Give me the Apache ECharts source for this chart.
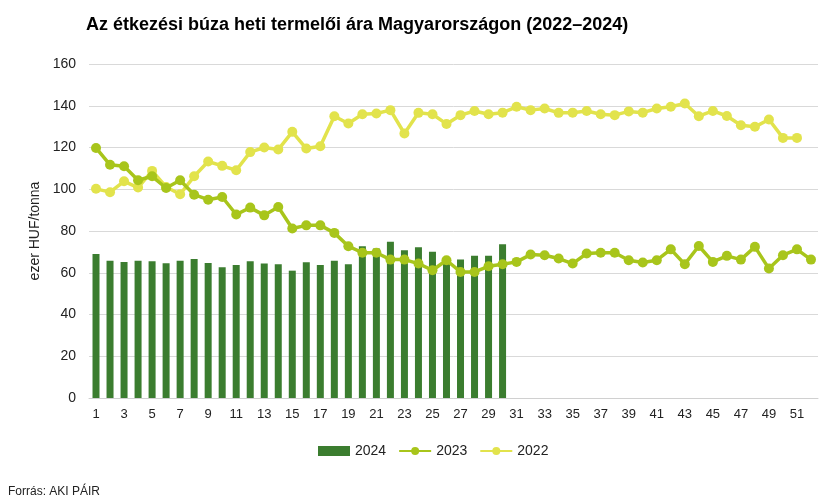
<!DOCTYPE html>
<html>
<head>
<meta charset="utf-8">
<script src="https://cdn.jsdelivr.net/npm/echarts@6/dist/echarts.min.js"></script>
<style>html,body{margin:0;padding:0;background:#fff}#c{width:838px;height:504px}</style>
</head>
<body>
<div id="c"></div>
<script>
var weeks = [];
for (var i = 1; i <= 52; i++) weeks.push(String(i));

var y2024 = [69, 65.8, 65.2, 65.7, 65.5, 64.5, 65.8, 66.6, 64.7, 62.6, 63.7, 65.5, 64.4, 64.1, 61.0, 65.0, 63.7, 65.7, 64.1, 72.7, 71.6, 74.9, 70.8, 72.2, 70.1, 64.5, 66.4, 68.2, 68.2, 73.6];

var y2023 = [119.8, 111.7, 111.0, 104.3, 106.2, 100.6, 104.3, 97.4, 95.0, 96.3, 87.9, 91.2, 87.5, 91.5, 81.2, 82.7, 82.7, 79.1, 72.7, 69.6, 69.6, 66.3, 66.3, 64.4, 61.2, 66.0, 60.4, 60.4, 63.1, 64.1, 65.2, 68.7, 68.4, 66.8, 64.4, 69.2, 69.6, 69.6, 66.0, 64.9, 66.0, 71.2, 64.1, 72.8, 65.2, 68.1, 66.3, 72.4, 62.0, 68.4, 71.2, 66.3];

var y2022 = [100.2, 98.6, 103.8, 100.8, 108.8, 101.1, 97.6, 106.2, 113.3, 111.2, 109.1, 117.8, 120.0, 119.0, 127.5, 119.5, 120.6, 135.0, 131.5, 135.9, 136.3, 137.9, 126.7, 136.6, 135.9, 131.3, 135.5, 137.5, 135.9, 136.7, 139.5, 137.9, 138.7, 136.6, 136.7, 137.5, 135.9, 135.5, 137.3, 136.7, 138.7, 139.5, 141.1, 135.0, 137.5, 135.1, 130.7, 129.9, 133.4, 124.6, 124.6];

var yTicks = [0, 20, 40, 60, 80, 100, 120, 140, 160];

var chart = echarts.init(document.getElementById('c'), null, {renderer: 'canvas'});
var FONT = 'Liberation Sans, Arial, sans-serif';
chart.setOption({
  animation: false,
  backgroundColor: '#ffffff',
  textStyle: {fontFamily: FONT},
  title: {
    text: 'Az étkezési búza heti termelői ára Magyarországon (2022–2024)',
    left: 81, top: 11,
    textStyle: {fontFamily: FONT, fontSize: 18, fontWeight: 'bold', color: '#000'}
  },
  legend: {
    left: 313, top: 439,
    itemGap: 12,
    itemWidth: 32, itemHeight: 10,
    textStyle: {fontFamily: FONT, fontSize: 14, color: '#222'},
    data: [
      {name: '2024', icon: 'rect', itemStyle: {color: '#3b7d2f'}},
      {name: '2023'},
      {name: '2022'}
    ]
  },
  graphic: [{
    type: 'text', left: 8, top: 486,
    style: {text: 'Forrás: AKI PÁIR', font: '12px ' + FONT, fill: '#222'}
  }],
  grid: {left: 89, right: 20, top: 64, bottom: 106, containLabel: false},
  xAxis: {
    type: 'category',
    data: weeks,
    boundaryGap: true,
    axisLine: {lineStyle: {color: '#d0d0d0'}},
    axisTick: {show: false},
    axisLabel: {interval: 1, fontSize: 13, color: '#222', margin: 10, fontFamily: FONT}
  },
  yAxis: {
    type: 'value',
    min: yTicks[0], max: yTicks[yTicks.length - 1], interval: 20,
    name: 'ezer HUF/tonna',
    nameLocation: 'middle', nameGap: 46, nameRotate: 90,
    nameTextStyle: {fontSize: 14, color: '#222', fontFamily: FONT},
    axisLine: {show: false},
    axisTick: {show: false},
    axisLabel: {fontSize: 14, color: '#222', margin: 13, fontFamily: FONT},
    splitLine: {lineStyle: {color: '#d9d9d9', width: 1}}
  },
  series: [
    {
      name: '2024', type: 'bar', data: y2024, barWidth: 7,
      itemStyle: {color: '#3b7d2f'}, z: 1
    },
    {
      name: '2023', type: 'line', data: y2023,
      symbol: 'circle', symbolSize: 10, showAllSymbol: true,
      lineStyle: {color: '#a8c51b', width: 3.5},
      itemStyle: {color: '#a8c51b'}, z: 3
    },
    {
      name: '2022', type: 'line', data: y2022,
      symbol: 'circle', symbolSize: 10, showAllSymbol: true,
      lineStyle: {color: '#e2e34c', width: 3.5},
      itemStyle: {color: '#e2e34c'}, z: 2
    }
  ]
});
</script>
</body>
</html>
